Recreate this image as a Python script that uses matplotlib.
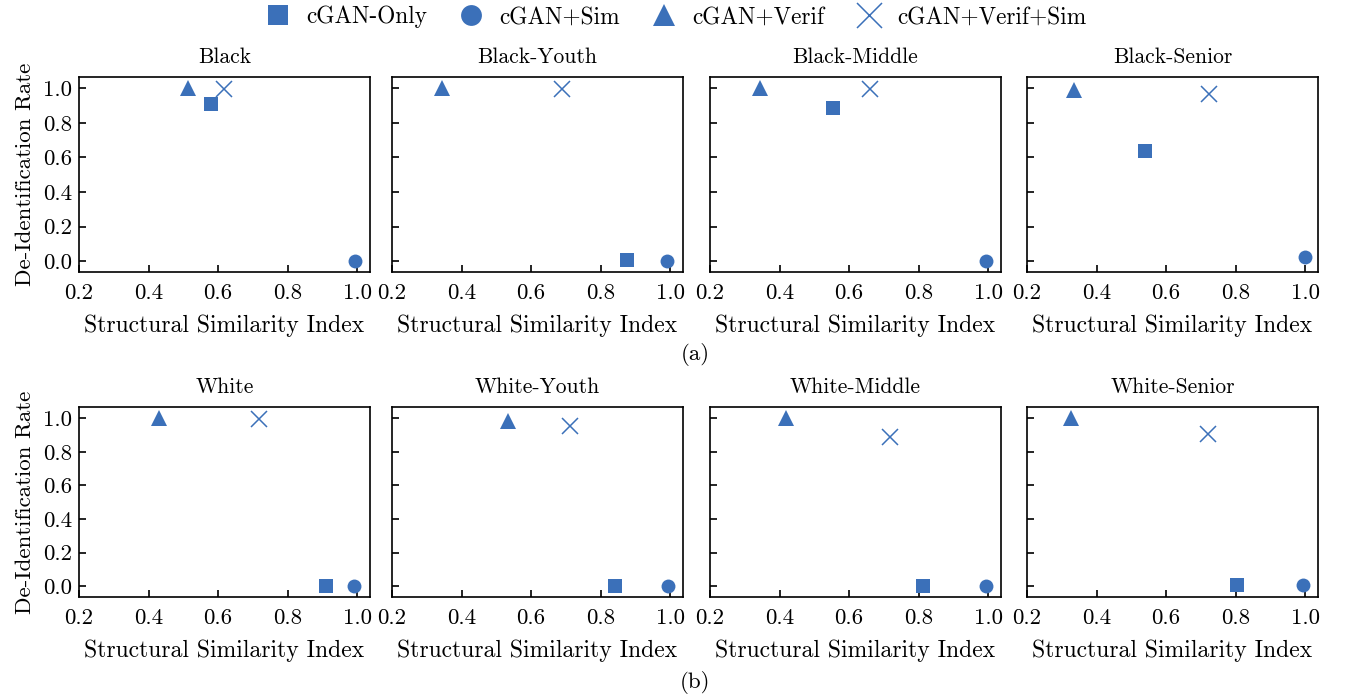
import matplotlib
matplotlib.use("Agg")
import matplotlib.pyplot as plt

plt.rcParams.update({
    "font.family": "serif",
    "font.serif": ["cmr10"],
    "mathtext.fontset": "cm",
    "axes.formatter.use_mathtext": True,
    "font.size": 17,
})

# data (SSIM, de-identification rate)
panels = ["Black", "Black-Youth", "Black-Middle", "Black-Senior",
          "White", "White-Youth", "White-Middle", "White-Senior"]
methods = ["cGAN-Only", "cGAN+Sim", "cGAN+Verif", "cGAN+Verif+Sim"]
markers = ["s", "o", "^", "x"]
sizes = [10, 10, 11, 12]

ssim_only = [0.58, 0.877, 0.553, 0.54, 0.91, 0.84, 0.814, 0.805]
rate_only = [0.91, 0.005, 0.885, 0.637, 0.0, 0.005, 0.0, 0.01]
ssim_sim = [0.995, 0.99, 0.995, 1.0, 0.99, 0.995, 0.995, 0.995]
rate_sim = [0.0, 0.0, 0.0, 0.025, 0.0, 0.0, 0.0, 0.01]
ssim_verif = [0.513, 0.343, 0.345, 0.336, 0.429, 0.535, 0.418, 0.327]
rate_verif = [1.0, 1.0, 1.0, 0.99, 1.0, 0.98, 1.0, 1.0]
ssim_vs = [0.617, 0.689, 0.66, 0.723, 0.717, 0.713, 0.719, 0.721]
rate_vs = [0.995, 0.995, 0.995, 0.965, 0.995, 0.955, 0.888, 0.905]

xs = [ssim_only, ssim_sim, ssim_verif, ssim_vs]
ys = [rate_only, rate_sim, rate_verif, rate_vs]

color = "#3b70b9"
W, H = 1350, 695
fig = plt.figure(figsize=(13.5, 6.95), dpi=100)

lefts = [79, 392, 710, 1027]
rows = [(77, 272), (407, 597)]  # top, bottom in pixels

handles = []
for i, name in enumerate(panels):
    r, c = divmod(i, 4)
    top, bot = rows[r]
    ax = fig.add_axes([lefts[c] / W, 1 - bot / H, 291 / W, (bot - top) / H])
    for k in range(4):
        if markers[k] == "x":
            h, = ax.plot(xs[k][i], ys[k][i], ls="none", marker="x", ms=sizes[k],
                         mew=1.1, color=color, label=methods[k])
        else:
            h, = ax.plot(xs[k][i], ys[k][i], ls="none", marker=markers[k],
                         ms=sizes[k], mew=0, color=color, label=methods[k])
        if i == 0:
            handles.append(h)
    ax.set_xlim(0.2, 1.037)
    ax.set_ylim(-0.063, 1.066)
    ax.set_xticks([0.2, 0.4, 0.6, 0.8, 1.0])
    ax.set_yticks([0.0, 0.2, 0.4, 0.6, 0.8, 1.0])
    ax.set_xticklabels(["0.2", "0.4", "0.6", "0.8", "1.0"])
    ax.tick_params(direction="in", length=5, width=1.2, top=False, right=False,
                   labelsize=16.5)
    ax.tick_params(axis="x", pad=8.5)
    ax.tick_params(axis="y", pad=5)
    if c == 0:
        ax.set_yticklabels(["0.0", "0.2", "0.4", "0.6", "0.8", "1.0"])
        ax.set_ylabel("De-Identification Rate", labelpad=6, fontsize=16.5)
    else:
        ax.set_yticklabels([])
    for s in ax.spines.values():
        s.set_linewidth(1.2)
    ax.set_title(name, pad=10, fontsize=15.5)
    ax.set_xlabel("Structural Similarity Index", labelpad=8)

fig.text(695 / W, 1 - 354 / H, "(a)", ha="center", va="center", fontsize=16.5)
fig.text(695 / W, 1 - 683 / H, "(b)", ha="center", va="center", fontsize=16.5)

fig.legend(handles=handles, loc="center", bbox_to_anchor=(0.5, 1 - 17 / H),
           ncol=4, frameon=False, markerscale=1.5, handletextpad=0.6,
           columnspacing=1.3, handlelength=1.2, fontsize=16.8)

fig.savefig("out.png", dpi=100)
